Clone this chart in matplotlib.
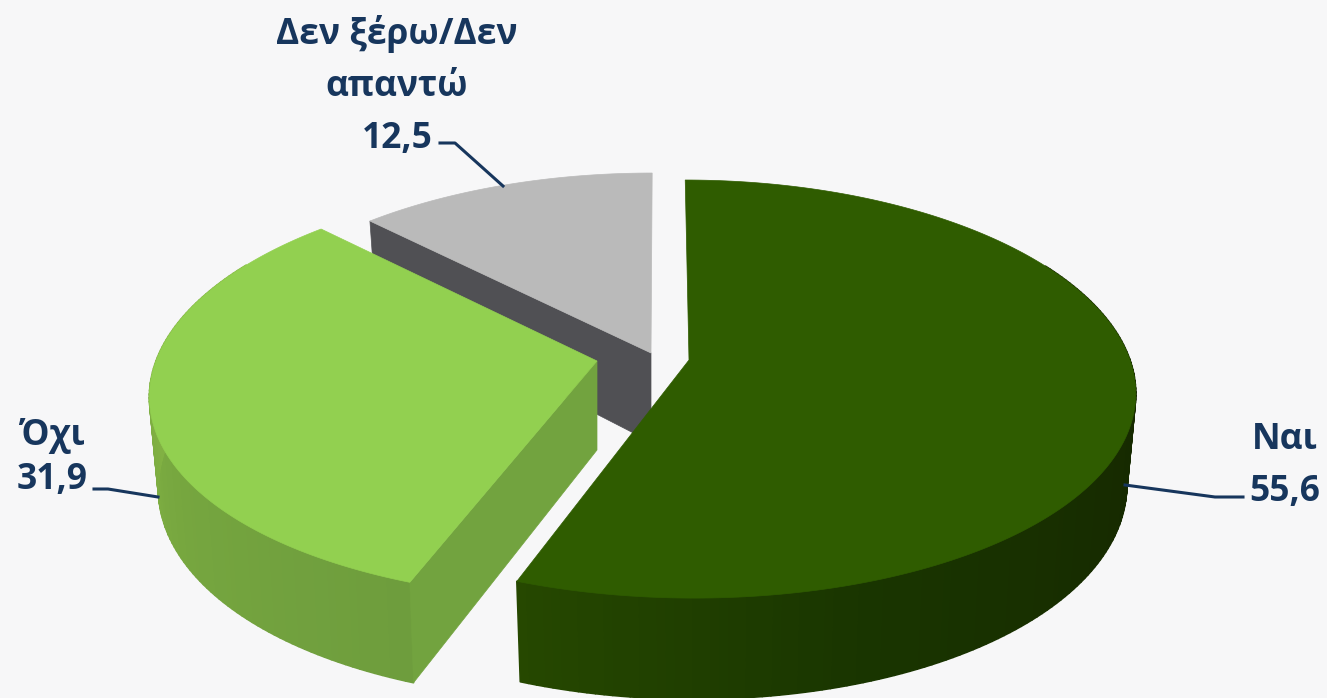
import numpy as np
import matplotlib
matplotlib.use("Agg")
import matplotlib.pyplot as plt
from matplotlib.collections import PolyCollection
from matplotlib.colors import LinearSegmentedColormap

labels = ["Ναι", "Όχι", "Δεν ξέρω/Δεν\nαπαντώ"]
values = [55.6, 31.9, 12.5]

top_colors = ["#2F5C00", "#92D050", "#BABABA"]
face_colors = ["#264800", "#72A33F", "#505054"]
wall_stops = [["#264800", "#193500", "#172C00", "#152600", "#142400", "#142400"],
              ["#6E9D3D", "#76A63F", "#84B444", "#86B746"],
              ["#505054", "#505054", "#505054", "#505054"]]

# where each slice's tip sits after exploding (pixels)
apex_x = [689, 597, 651]
apex_y = [360, 361, 353]

# perspective of the top disc and the bottom disc
RX, RY, KX, KY, VANISH_X = 441, 205, 0.15, 0.139, 660
BOTTOM_SCALE, BOTTOM_RY, BOTTOM_K, DEPTH = 0.98, 218, 0.1286, 89
NAVY = "#17365D"


def top_xy(i, theta):
    th = np.radians(theta)
    wx = 1 + KX * np.cos(th)
    wy = 1 + KY * np.cos(th)
    x = apex_x[i] + RX * np.sin(th) / wx + (apex_x[i] - VANISH_X) * (1 / wx - 1)
    return x, apex_y[i] - RY * np.cos(th) / wy


def bottom_xy(i, theta):
    th = np.radians(theta)
    wx = 1 + KX * np.cos(th)
    wy = 1 + BOTTOM_K * np.cos(th)
    x = apex_x[i] + BOTTOM_SCALE * (RX * np.sin(th) / wx + (apex_x[i] - VANISH_X) * (1 / wx - 1))
    y = apex_y[i] + DEPTH - BOTTOM_RY * np.cos(th) / wy
    return x, y


def main():
    fig = plt.figure(figsize=(13.27, 6.98), dpi=100, facecolor="#F7F7F8")
    ax = fig.add_axes([0, 0, 1, 1])
    ax.set_xlim(0, 1327)
    ax.set_ylim(698, 0)
    ax.axis("off")

    edges = np.concatenate([[0], np.cumsum(values)]) * 3.6

    # back to front: gray, light green, dark green
    for i in [2, 1, 0]:
        start, end = edges[i], edges[i + 1]
        thetas = np.linspace(start, end, int(end - start) + 2)
        tx, ty = top_xy(i, thetas)
        bx, by = bottom_xy(i, thetas)

        # outer wall in thin strips so the shading can change with the angle
        cmap = LinearSegmentedColormap.from_list("wall", wall_stops[i])
        quads = []
        cols = []
        for j in range(len(thetas) - 1):
            # the back half of the wall can't be seen
            if np.cos(np.radians(thetas[j])) > 0.5:
                continue
            quads.append([(tx[j], ty[j]), (tx[j + 1], ty[j + 1]),
                          (bx[j + 1], by[j + 1]), (bx[j], by[j])])
            if i == 0:
                cols.append(cmap(1 - (thetas[j] - start) / (end - start)))
            else:
                cols.append(cmap((thetas[j] - start) / (end - start)))
        if i != 2:
            ax.add_collection(PolyCollection(quads, facecolors=cols, edgecolors=cols, linewidths=1.2))

        # radial face that looks to the viewer
        if i != 0:
            fx, fy = top_xy(i, start)
            gx, gy = bottom_xy(i, start)
            ax.fill([apex_x[i], fx, gx, apex_x[i]], [apex_y[i], fy, gy, apex_y[i] + DEPTH],
                    color=face_colors[i], lw=0.5)

        ax.fill(np.r_[apex_x[i], tx], np.r_[apex_y[i], ty], color=top_colors[i], lw=0.5)

    # leader lines
    ax.plot([1125, 1215, 1243], [485, 497, 497], color=NAVY, lw=2.2)
    ax.plot([94, 108, 158], [489, 489, 497], color=NAVY, lw=2.2)
    ax.plot([440, 455, 503], [143, 143, 186], color=NAVY, lw=2.2)

    font = dict(family="Open Sans", fontweight="bold", color=NAVY, fontsize=25.5,
                ha="center", va="center")
    texts = [f"{lab}\n{val:.1f}".replace(".", ",") for lab, val in zip(labels, values)]
    ax.text(1285, 466, texts[0], linespacing=1.61, **font)
    ax.text(52, 458, texts[1], linespacing=1.31, **font)
    ax.text(397, 86, texts[2], linespacing=1.6, **font)

    fig.savefig("out.png", dpi=100, facecolor=fig.get_facecolor())
    plt.close(fig)


if __name__ == "__main__":
    main()
